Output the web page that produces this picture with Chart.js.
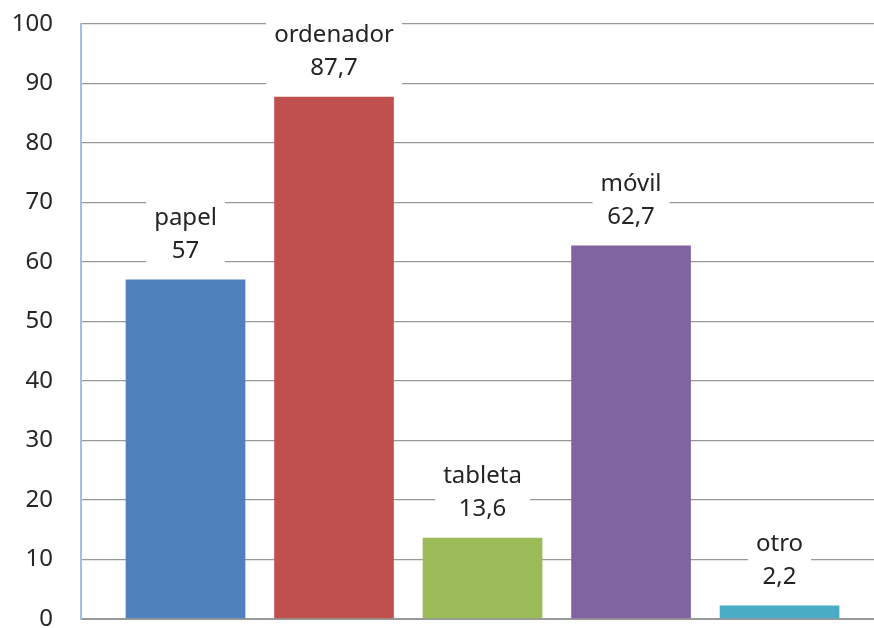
<!DOCTYPE html>
<html>
<head>
<meta charset="utf-8">
<title>Dispositivos</title>
<script src="https://cdn.jsdelivr.net/npm/chart.js@4/dist/chart.umd.min.js"></script>
<style>
  html, body { margin: 0; padding: 0; background: #fff; overflow: hidden; }
  canvas { display: block; }
</style>
</head>
<body>
<canvas id="myChart" width="874" height="628"></canvas>
<script>
const categories = ['papel', 'ordenador', 'tableta', 'móvil', 'otro'];
const values = [57, 87.7, 13.6, 62.7, 2.2];
const valueLabels = ['57', '87,7', '13,6', '62,7', '2,2'];
const barColors = ['#4F81BD', '#C0504D', '#9BBB59', '#8064A2', '#4BACC6'];
const yTicks = [0, 10, 20, 30, 40, 50, 60, 70, 80, 90, 100];

const ctx = document.querySelector('#myChart').getContext('2d');
const font = '"Noto Sans", "DejaVu Sans", sans-serif';

// name + value drawn over each bar on a white box
const barLabels = {
    id: 'barLabels',
    afterDatasetsDraw(chart) {
        const c = chart.ctx;
        const meta = chart.getDatasetMeta(0);
        c.save();
        c.font = '24px ' + font;
        c.textAlign = 'center';
        c.textBaseline = 'alphabetic';
        meta.data.forEach((bar, i) => {
            const x = bar.x;
            const top = bar.y;
            const w = Math.max(c.measureText(categories[i]).width, c.measureText(valueLabels[i]).width) + 16;
            c.fillStyle = '#fff';
            c.fillRect(x - w / 2, top - 80, w, 68);
            c.fillStyle = '#242424';
            c.fillText(categories[i], x, top - 55);
            c.fillText(valueLabels[i], x, top - 22);
        });
        c.restore();
    }
};

const chartData = {
    datasets: [{
        data: values.map((v, i) => ({ x: i, y: v })),
        backgroundColor: barColors,
        borderWidth: 0,
        barThickness: 119
    }]
};

const myChart = new Chart(ctx, {
    type: 'bar',
    data: chartData,
    plugins: [barLabels],
    options: {
        responsive: false,
        animation: false,
        layout: { padding: { top: 24, bottom: 9, right: 0, left: 0 } },
        plugins: { legend: { display: false }, tooltip: { enabled: false } },
        scales: {
            x: {
                type: 'linear',
                offset: false,
                min: -0.7037,
                max: 4.636,
                ticks: { display: false },
                grid: { display: false, drawTicks: false },
                border: { display: false },
                afterFit: axis => { axis.height = 0; }
            },
            y: {
                min: 0,
                max: 100,
                afterBuildTicks: axis => { axis.ticks = yTicks.map(v => ({ value: v })); },
                afterFit: axis => {
                    // fixed gutter; labels may spill past the plot edges
                    axis.width = 81;
                    axis.paddingTop = 0;
                    axis.paddingBottom = 0;
                },
                ticks: {
                    color: '#262626',
                    font: { family: font, size: 24 },
                    padding: 28
                },
                grid: {
                    color: '#999',
                    lineWidth: ctx2 => ctx2.tick && ctx2.tick.value === 0 ? 2 : 1.3,
                    drawTicks: false
                },
                border: { display: true, color: '#A4BDE3', width: 2 }
            }
        }
    }
});
</script>
</body>
</html>
